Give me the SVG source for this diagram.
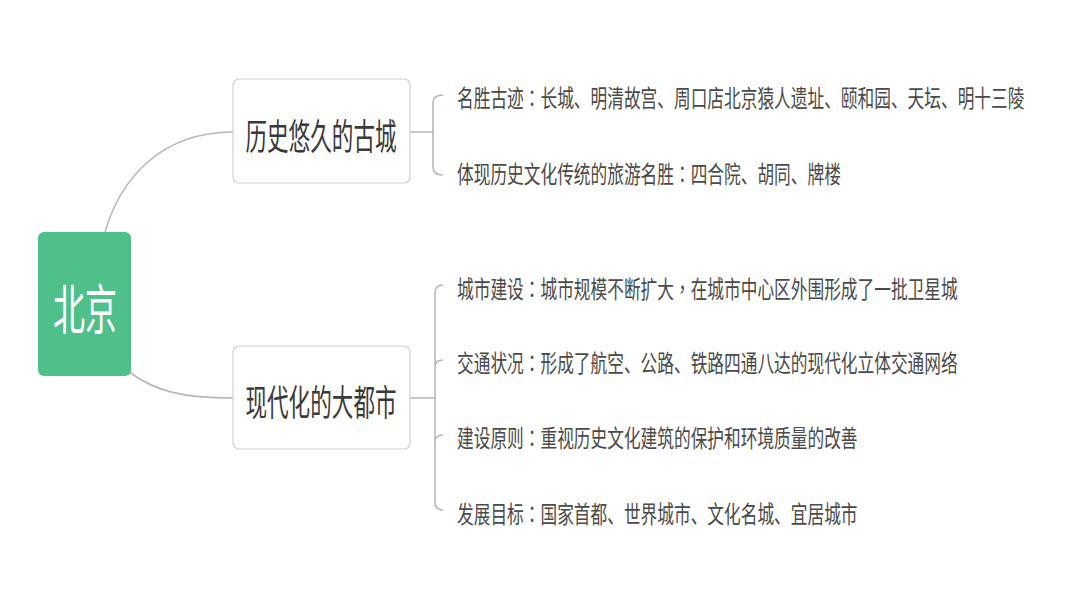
<svg xmlns="http://www.w3.org/2000/svg" width="1080" height="608" viewBox="0 0 1080 608">
<style>
text{font-family:"Noto Sans CJK SC","Noto Sans",sans-serif;dominant-baseline:central}
.root{fill:#fff;font-size:54px}
.br{fill:#3a3a3a;font-size:36px}
.lf{fill:#4a4a4a;font-size:24px}
.p{font-family:"Noto Sans CJK TC","Noto Sans CJK SC",sans-serif}
.box{fill:#fff;stroke:#cfcfcf;stroke-width:1.2}
.ln{fill:none;stroke:#b8b8b8;stroke-width:1.6}
</style>
<rect width="1080" height="608" fill="#fff"/>
<g id="connectors">
<path class="ln" d="M105,232 C120,180 160,132 233,132"/>
<path class="ln" d="M128,371 C155,392 185,398 233,398"/>
<path class="ln" d="M410,132 H433 M443,95 Q433,95 433,103 V167 Q433,175 443,175"/>
<path class="ln" d="M410,398 H435 M443,285 Q435,285 435,293 V502 Q435,510 443,510 M435,367 Q435,360 443,360 M435,442 Q435,435 443,435"/>
</g>
<g id="root">
<rect x="38" y="232" width="93" height="144" rx="6" fill="#50c08b"/>
<text class="root" transform="translate(85,307) scale(0.593,1)" text-anchor="middle">北京</text>
</g>
<g id="branch1">
<rect class="box" x="233" y="79" width="177" height="104" rx="6"/>
<text class="br" transform="translate(321,135) scale(0.6,1)" text-anchor="middle">历史悠久的古城</text>
</g>
<g id="branch2">
<rect class="box" x="233" y="346" width="177" height="103" rx="6"/>
<text class="br" transform="translate(321,401) scale(0.6,1)" text-anchor="middle">现代化的大都市</text>
</g>
<g id="leaf1"><text class="lf" transform="translate(457,97) scale(0.696,1)">名胜古迹<tspan class="p">：</tspan>长城、明清故宫、周口店北京猿人遗址、颐和园、天坛、明十三陵</text></g>
<g id="leaf2"><text class="lf" transform="translate(457,173) scale(0.696,1)">体现历史文化传统的旅游名胜<tspan class="p">：</tspan>四合院、胡同、牌楼</text></g>
<g id="leaf3"><text class="lf" transform="translate(457,288) scale(0.696,1)">城市建设<tspan class="p">：</tspan>城市规模不断扩大<tspan class="p">，</tspan>在城市中心区外围形成了一批卫星城</text></g>
<g id="leaf4"><text class="lf" transform="translate(457,362) scale(0.696,1)">交通状况<tspan class="p">：</tspan>形成了航空、公路、铁路四通八达的现代化立体交通网络</text></g>
<g id="leaf5"><text class="lf" transform="translate(457,437) scale(0.696,1)">建设原则<tspan class="p">：</tspan>重视历史文化建筑的保护和环境质量的改善</text></g>
<g id="leaf6"><text class="lf" transform="translate(457,513) scale(0.696,1)">发展目标<tspan class="p">：</tspan>国家首都、世界城市、文化名城、宜居城市</text></g>
</svg>
